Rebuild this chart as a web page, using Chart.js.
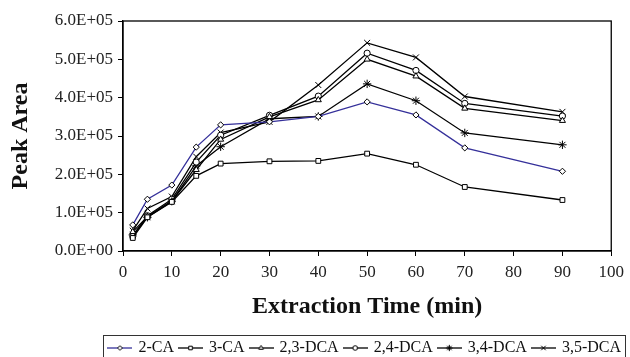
<!DOCTYPE html>
<html>
<head>
<meta charset="utf-8">
<script src="https://cdn.jsdelivr.net/npm/chart.js@4/dist/chart.umd.min.js"></script>
<style>
  html, body { margin: 0; padding: 0; background: #fff; }
  #wrap { width: 630px; height: 357px; }
</style>
</head>
<body>
<div id="wrap"><canvas id="chart" width="630" height="357"></canvas></div>
<script>
// ===== DATA =====
const times = [2, 5, 10, 15, 20, 30, 40, 50, 60, 70, 90];
const ca2   = [68000, 135000, 172000, 271000, 329000, 337000, 351000, 389000, 355000, 269000, 208000];
const ca3   = [34000, 88000, 128000, 196000, 228000, 234000, 235000, 254000, 225000, 167000, 133000];
const dca23 = [50000, 90000, 130000, 212000, 291000, 350000, 394000, 500000, 456000, 372000, 340000];
const dca24 = [38000, 92000, 135000, 232000, 302000, 354000, 404000, 516000, 471000, 385000, 352000];
const dca34 = [42000, 88000, 130000, 222000, 272000, 345000, 351000, 436000, 392000, 308000, 277000];
const dca35 = [53000, 111000, 142000, 246000, 309000, 337000, 433000, 543000, 505000, 403000, 363000];
const seriesNames = ['2-CA', '3-CA', '2,3-DCA', '2,4-DCA', '3,4-DCA', '3,5-DCA'];

const serif = "'Liberation Serif', 'DejaVu Serif', serif";
const blue = '#35309a';

// plot box wanted: left 123, right 612, top 21, bottom 251
const PLOT_LEFT = 123, PLOT_BOTTOM = 251, RIGHT_GAP = 15, PAD_BOTTOM = -9;

// style per series: [values, line color, marker]
const seriesDefs = [
    [ca2, blue, 'rectRot'],
    [ca3, '#000', 'rect'],
    [dca23, '#000', 'triangle'],
    [dca24, '#000', 'circle'],
    [dca34, '#000', 'star'],
    [dca35, '#000', 'crossRot']
];

function markerRadius(style) {
    if (style === 'rect') return 3.4;
    if (style === 'crossRot' || style === 'star') return 4.2;
    if (style === 'triangle') return 3.5;
    return 3.1;
}

// small line + marker icon for the legend
function legendIcon(color, style) {
    const c = document.createElement('canvas');
    c.width = 25; c.height = 10;
    const ctx = c.getContext('2d');
    ctx.strokeStyle = color;
    ctx.lineWidth = 1.3;
    ctx.beginPath();
    ctx.moveTo(0, 5); ctx.lineTo(25, 5);
    ctx.stroke();
    ctx.fillStyle = '#fff';
    ctx.strokeStyle = '#000';
    ctx.lineWidth = 1;
    Chart.helpers.drawPoint(ctx, { pointStyle: style, radius: markerRadius(style) * 0.75, rotation: 0, borderWidth: 1 }, 12.5, 5);
    return c;
}

const datasets = seriesDefs.map((d, i) => ({
    label: seriesNames[i],
    data: times.map((t, j) => ({ x: t, y: d[0][j] })),
    borderColor: d[1],
    borderWidth: 1.3,
    backgroundColor: '#fff',
    pointStyle: d[2],
    pointRadius: markerRadius(d[2]),
    pointBorderColor: '#000',
    pointBackgroundColor: '#fff',
    pointBorderWidth: 1,
    tension: 0
}));
const icons = seriesDefs.map(d => legendIcon(d[1], d[2]));

// plot frame + legend frame
const framePlugin = {
    id: 'frames',
    afterDraw(chart) {
        const ctx = chart.ctx;
        const a = chart.chartArea;
        ctx.save();
        ctx.strokeStyle = '#000';
        ctx.lineWidth = 1.3;
        ctx.strokeRect(a.left, a.top, a.right - a.left, a.bottom - a.top);
        const boxes = chart.legend.legendHitBoxes;
        if (boxes && boxes.length) {
            let l = Infinity, r = -Infinity, t = Infinity;
            boxes.forEach(h => {
                l = Math.min(l, h.left); r = Math.max(r, h.left + h.width);
                t = Math.min(t, h.top);
            });
            ctx.lineWidth = 1;
            ctx.strokeStyle = '#333';
            ctx.strokeRect(Math.round(l - 6) + 0.5, Math.round(t - 5) + 0.5, Math.round(r - l + 10), 40);
        }
        ctx.restore();
    }
};

new Chart(document.getElementById('chart').getContext('2d'), {
    type: 'line',
    data: { datasets: datasets },
    plugins: [framePlugin],
    options: {
        responsive: false,
        animation: false,
        layout: { padding: { left: 0, right: 3, top: 21, bottom: PAD_BOTTOM } },
        scales: {
            x: {
                type: 'linear',
                min: 0, max: 100,
                ticks: { stepSize: 10, color: '#222', font: { family: serif, size: 17 }, padding: 6, maxRotation: 0 },
                grid: { drawOnChartArea: false, drawTicks: true, tickLength: 5, color: '#000' },
                border: { color: '#000', width: 1.3 },
                title: { display: true, text: 'Extraction Time (min)', color: '#111', font: { family: serif, size: 24, weight: 'bold' }, padding: { top: 2, bottom: 13 } },
                afterFit(scale) {
                    scale.height = scale.chart.height - PLOT_BOTTOM - scale.chart.legend.height - PAD_BOTTOM;
                }
            },
            y: {
                min: 0, max: 600000,
                ticks: {
                    stepSize: 100000, color: '#222', font: { family: serif, size: 17 }, padding: 5,
                    callback: v => v === 0 ? '0.0E+00' : (v / 100000).toFixed(1) + 'E+05'
                },
                grid: { drawOnChartArea: false, drawTicks: true, tickLength: 5, color: '#000' },
                border: { color: '#000', width: 1.3 },
                title: { display: true, text: 'Peak Area', color: '#111', font: { family: serif, size: 24, weight: 'bold' }, padding: { top: 6, bottom: 0 } },
                afterFit(scale) { scale.width = PLOT_LEFT; }
            },
            yRight: {
                position: 'right',
                display: true,
                ticks: { display: false },
                grid: { display: false },
                border: { display: false },
                afterFit(scale) { scale.width = RIGHT_GAP; }
            }
        },
        plugins: {
            tooltip: { enabled: false },
            legend: {
                position: 'bottom',
                align: 'end',
                labels: {
                    usePointStyle: true,
                    pointStyleWidth: 21,
                    boxHeight: 10,
                    padding: 6,
                    color: '#111',
                    font: { family: serif, size: 16 },
                    generateLabels(chart) {
                        const items = Chart.defaults.plugins.legend.labels.generateLabels(chart);
                        items.forEach((it, i) => { it.pointStyle = icons[i]; });
                        return items;
                    }
                }
            }
        }
    }
});
</script>
</body>
</html>
